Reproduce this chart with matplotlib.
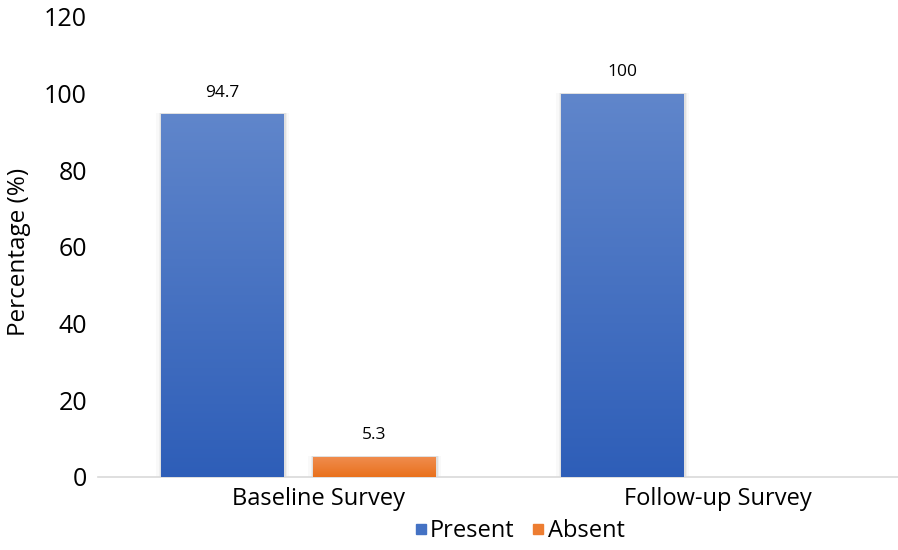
import matplotlib.pyplot as plt
import numpy as np
from matplotlib.colors import LinearSegmentedColormap

surveys = ['Baseline Survey', 'Follow-up Survey']
present = [94.7, 100]
absent = [5.3, None]
value_labels_present = ['94.7', '100']
value_labels_absent = ['5.3', '']

plt.rcParams['font.family'] = ['Open Sans', 'DejaVu Sans']

fig = plt.figure(figsize=(8.98, 5.5), dpi=100)
ax = fig.add_axes([98/898, 1-477/550, 800/898, 460/550])

x = np.arange(len(surveys))
w = 0.3075
off = 0.19

blue_cm = LinearSegmentedColormap.from_list('b', ['#2E5EB8', '#6086CB'])
orange_cm = LinearSegmentedColormap.from_list('o', ['#E9711C', '#F08D50'])
grad = np.linspace(0, 1, 256).reshape(-1, 1)


def grad_bars(xs, vals, cmap, labels):
    for xi, v, lab in zip(xs, vals, labels):
        if v is None:
            continue
        # soft shadow round the bar
        for extra, a in [(0.025, 0.025), (0.014, 0.04), (0.006, 0.06)]:
            ax.bar(xi + 0.002, v + 0.3, w + extra, bottom=0, color='#000000',
                   alpha=a, zorder=1, linewidth=0)
        b = ax.bar(xi, v, w, color='none', zorder=2, linewidth=0)[0]
        im = ax.imshow(grad, cmap=cmap, origin='lower', aspect='auto',
                       extent=[xi - w/2, xi + w/2, 0, v], zorder=3)
        im.set_clip_path(b)
        ax.text(xi, v + 3.5, lab, ha='center', va='bottom', fontsize=12.5, color='#000000')


grad_bars(x - off, present, blue_cm, value_labels_present)
grad_bars(x + off, absent, orange_cm, value_labels_absent)

ax.set_xlim(-0.5, 1.5)
ax.set_ylim(0, 120)
ax.set_yticks(np.arange(0, 121, 20))
ax.set_xticks(x + 0.05)
ax.set_xticklabels(surveys, fontsize=17)
ax.tick_params(axis='y', labelsize=18, length=0, pad=8)
ax.tick_params(axis='x', length=0, pad=7)
for s in ['top', 'right', 'left']:
    ax.spines[s].set_visible(False)
ax.spines['bottom'].set_color('#D9D9D9')
ax.spines['bottom'].set_linewidth(1.2)
ax.set_ylabel('Percentage (%)', fontsize=17.5)
ax.yaxis.set_label_coords((31 - 98) / 800, (477 - 252) / 460)

h1 = plt.Line2D([], [], color='#4472C4', marker='s', linestyle='none', markersize=7, label='Present')
h2 = plt.Line2D([], [], color='#ED7D31', marker='s', linestyle='none', markersize=7, label='Absent')
fig.legend(handles=[h1, h2], loc='center', bbox_to_anchor=(518/898, 1-531/550), ncol=2,
           frameon=False, fontsize=17, handletextpad=0.0, columnspacing=0.6,
           handlelength=0.8, borderpad=0)

plt.savefig('out.png', dpi=100)
